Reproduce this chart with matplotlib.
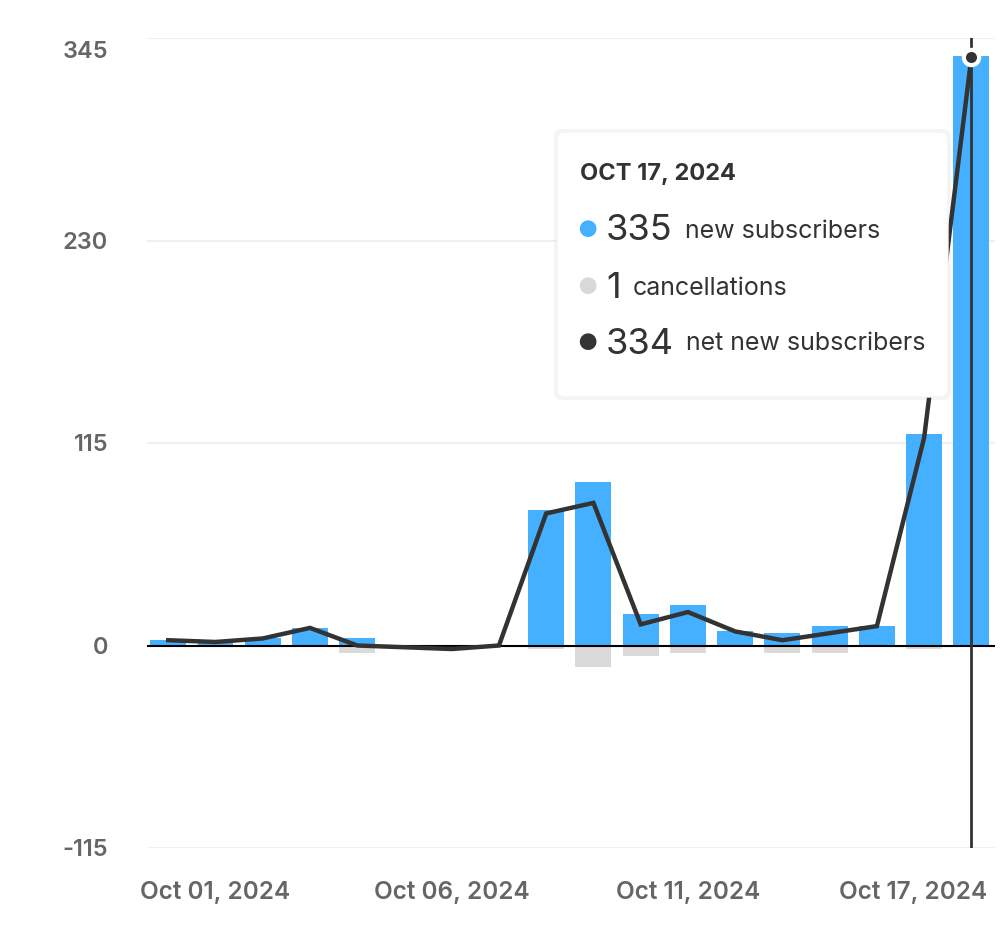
import matplotlib.pyplot as plt
from matplotlib.patches import FancyBboxPatch
from matplotlib.transforms import ScaledTranslation

plt.rcParams['font.family'] = ['Inter', 'DejaVu Sans']

# daily values, Sep 30 .. Oct 17, 2024
days = ["Sep 30", "Oct 01", "Oct 02", "Oct 03", "Oct 04", "Oct 05", "Oct 06", "Oct 07",
        "Oct 08", "Oct 09", "Oct 10", "Oct 11", "Oct 12", "Oct 13", "Oct 14", "Oct 15",
        "Oct 16", "Oct 17"]
new_subs = [3, 2, 4, 10, 4, 0, 0, 0, 77, 93, 18, 23, 8, 7, 11, 11, 120, 335]
cancellations = [0, 0, 0, 0, 4, 1, 2, 0, 2, 12, 6, 4, 0, 4, 4, 0, 2, 1]
net_subs = [n - c for n, c in zip(new_subs, cancellations)]

tick_idx = [1, 6, 11, 17]
tick_labels = ["Oct 01, 2024", "Oct 06, 2024", "Oct 11, 2024", "Oct 17, 2024"]
y_ticks = [-115, 0, 115, 230, 345]

BLUE = "#45B0FF"
GREY = "#DADADA"
DARK = "#333333"

fig = plt.figure(figsize=(10.07, 9.48), dpi=100)
ax = fig.add_axes([147 / 1007, 1 - 848 / 948, (995 - 147) / 1007, 810 / 948])

x = list(range(len(days)))
ax.bar(x, new_subs, width=0.76, color=BLUE, zorder=2)
ax.bar(x, [-c for c in cancellations], width=0.76, color=GREY, zorder=2)
ax.plot(x, net_subs, color=DARK, lw=3.2, zorder=4, solid_joinstyle='miter')
ax.axhline(0, color="black", lw=1.5, zorder=3)

# hover cursor on the last day
sel = len(days) - 1
ax.axvline(sel, color=DARK, lw=2, zorder=5)
ax.plot([sel], [net_subs[sel]], 'o', ms=11, color=DARK, mec="white", mew=3, zorder=6)

ax.set_xlim(-0.45, 17.5)
ax.set_ylim(-115, 345)
ax.set_yticks(y_ticks)
ax.set_yticklabels([str(v) for v in y_ticks])
ax.yaxis.grid(True, color="#EEEEEE", lw=1.2, zorder=0)
ax.set_axisbelow(True)
for s in ax.spines.values():
    s.set_visible(False)
ax.tick_params(axis='y', length=0, pad=28, labelsize=17, labelcolor="#666666")
ax.tick_params(axis='x', length=0, pad=24, labelsize=17.5, labelcolor="#666666")
for t in ax.get_yticklabels():
    t.set_fontweight('semibold')
top = ax.get_yticklabels()[-1]
top.set_transform(top.get_transform() + ScaledTranslation(0, -0.11, fig.dpi_scale_trans))

ax.set_xticks(tick_idx)
ax.set_xticklabels(tick_labels)
for t in ax.get_xticklabels():
    t.set_fontweight('semibold')
last = ax.get_xticklabels()[-1]
last.set_transform(last.get_transform() + ScaledTranslation(-0.58, 0, fig.dpi_scale_trans))

# tooltip box
W, H = 1007, 948
def fx(px):
    return px / W
def fy(py):
    return 1 - py / H

shadow = FancyBboxPatch((fx(554), fy(400)), fx(397), 271 / H,
                        boxstyle="round,pad=0,rounding_size=0.008",
                        transform=fig.transFigure, fc="#000000", alpha=0.04,
                        ec="none", zorder=9)
box = FancyBboxPatch((fx(557), fy(397)), fx(391), 265 / H,
                     boxstyle="round,pad=0,rounding_size=0.008",
                     transform=fig.transFigure, fc="white", ec="#F4F4F4",
                     lw=1, zorder=10)
fig.patches.extend([shadow, box])

fig.text(fx(580), fy(174), "OCT 17, 2024", fontsize=17, fontweight='bold',
         color=DARK, va='center', zorder=11)
rows = [(new_subs[sel], "new subscribers", BLUE, 231),
        (cancellations[sel], "cancellations", "#D8D8D8", 288),
        (net_subs[sel], "net new subscribers", DARK, 344)]
for val, label, col, py in rows:
    fig.text(fx(587), fy(py), "\u25CF", fontsize=16, color=col, ha='center',
             va='center', zorder=11)
    num = fig.text(fx(606), fy(py), str(val), fontsize=26, color=DARK,
                   va='center', zorder=11)
    fig.canvas.draw()
    bb = num.get_window_extent()
    fig.text((bb.x1 + 12) / W, fy(py), label, fontsize=18, color=DARK,
             va='center', zorder=11)

fig.savefig("out.png", dpi=100)
